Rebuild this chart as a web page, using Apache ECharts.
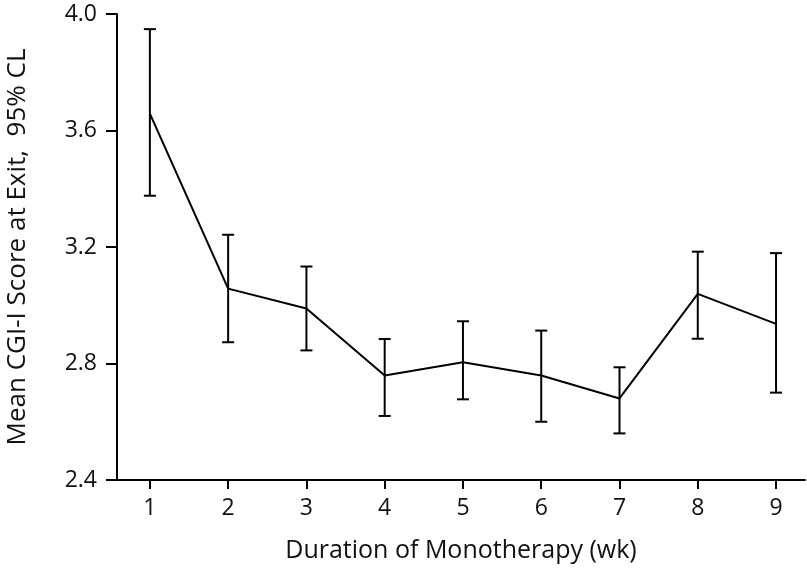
<!DOCTYPE html>
<html><head><meta charset="utf-8">
<script src="https://cdn.jsdelivr.net/npm/echarts@6/dist/echarts.min.js"></script>
<style>html,body{margin:0;padding:0;background:#fff}#c{width:807px;height:569px}</style>
</head><body><div id="c"></div>
<script>
const weeks = [1, 2, 3, 4, 5, 6, 7, 8, 9];
const means = [3.658, 3.057, 2.989, 2.759, 2.804, 2.759, 2.680, 3.039, 2.936];
const lowers = [3.376, 2.873, 2.845, 2.620, 2.677, 2.600, 2.560, 2.885, 2.700];
const uppers = [3.948, 3.242, 3.133, 2.884, 2.945, 2.913, 2.787, 3.184, 3.179];
const yTicks = [2.4, 2.8, 3.2, 3.6, 4.0];

const font = 'Open Sans';
const chart = echarts.init(document.getElementById('c'));
chart.setOption({
  animation: false,
  grid: {left: 117, right: 2, top: 14, bottom: 89, outerBoundsMode: 'none', containLabel: false},
  xAxis: {
    type: 'value', min: 0.58, max: 9.37,
    name: 'Duration of Monotherapy (wk)', nameLocation: 'middle', nameGap: 58,
    nameTextStyle: {fontFamily: font, fontSize: 25, color: '#111'},
    axisLine: {lineStyle: {color: '#000', width: 2}},
    axisTick: {show: true, length: 9, lineStyle: {color: '#000', width: 2}, customValues: weeks},
    axisLabel: {fontFamily: font, fontSize: 23, color: '#111', margin: 17, customValues: weeks, formatter: v => String(v)},
    splitLine: {show: false}
  },
  yAxis: {
    type: 'value', min: 2.4, max: 4.0, interval: 0.4,
    name: 'Mean CGI-I Score at Exit,  95% CL', nameLocation: 'middle', nameGap: 86,
    nameTextStyle: {fontFamily: font, fontSize: 26, color: '#111'},
    axisLine: {show: true, lineStyle: {color: '#000', width: 2}},
    axisTick: {show: true, length: 11, lineStyle: {color: '#000', width: 2}, customValues: yTicks},
    axisLabel: {fontFamily: font, fontSize: 23, color: '#111', margin: 20, customValues: yTicks, formatter: v => v.toFixed(1)},
    splitLine: {show: false}
  },
  series: [
    {
      type: 'line', data: weeks.map((w, i) => [w, means[i]]),
      symbol: 'none', lineStyle: {color: '#000', width: 2}
    },
    {
      type: 'custom',
      data: weeks.map((w, i) => [w, lowers[i], uppers[i]]),
      renderItem: function (params, api) {
        const lo = api.coord([api.value(0), api.value(1)]);
        const hi = api.coord([api.value(0), api.value(2)]);
        const hw = 6;
        const st = {stroke: '#000', lineWidth: 2};
        return {type: 'group', children: [
          {type: 'line', shape: {x1: lo[0], y1: lo[1], x2: hi[0], y2: hi[1]}, style: st},
          {type: 'line', shape: {x1: lo[0] - hw, y1: lo[1], x2: lo[0] + hw, y2: lo[1]}, style: st},
          {type: 'line', shape: {x1: hi[0] - hw, y1: hi[1], x2: hi[0] + hw, y2: hi[1]}, style: st}
        ]};
      }
    }
  ]
});
</script></body></html>
